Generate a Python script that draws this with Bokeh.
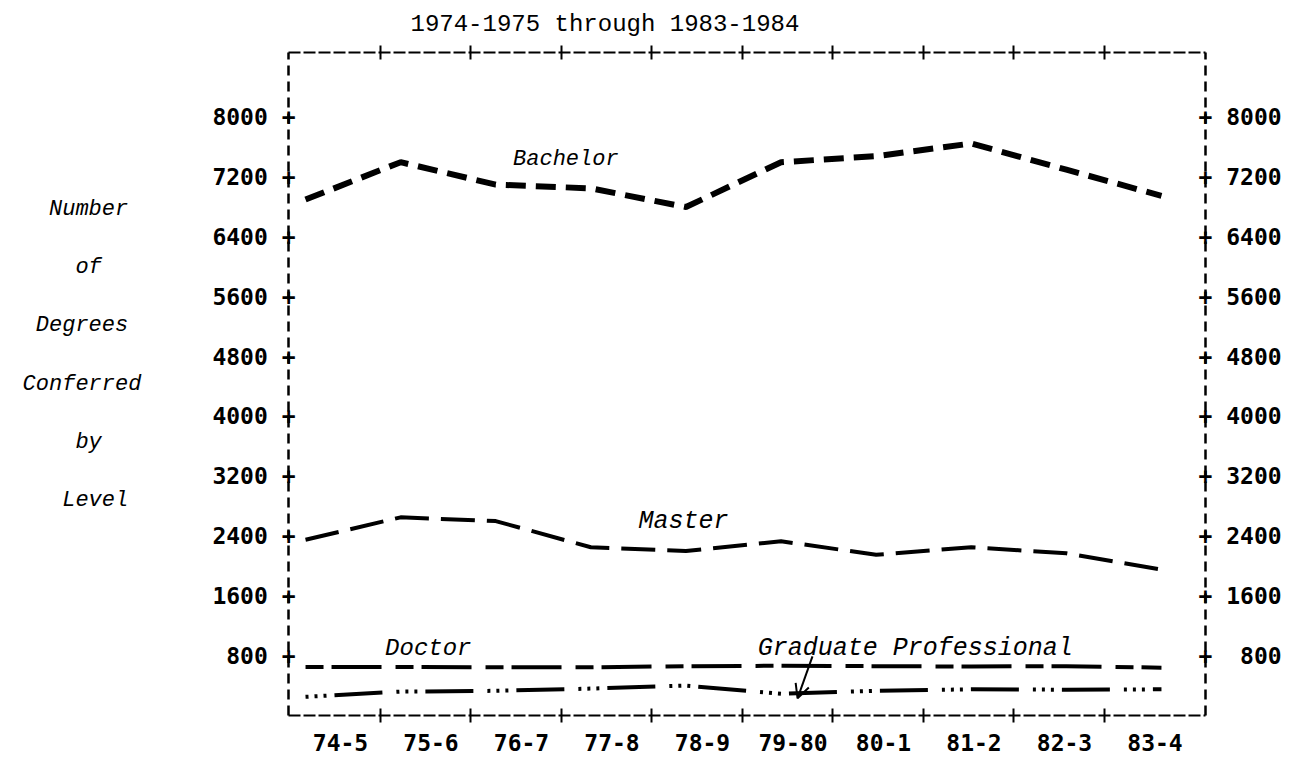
from bokeh.plotting import figure
from bokeh.models import Range1d, LinearAxis, FixedTicker, Label, Arrow, OpenHead
from bokeh.embed import file_html
from bokeh.resources import INLINE

# ---- data ----
years = ["74-5", "75-6", "76-7", "77-8", "78-9", "79-80", "80-1", "81-2", "82-3", "83-4"]
bachelor = [6900, 7400, 7100, 7050, 6800, 7400, 7480, 7650, 7300, 6950]
master = [2350, 2650, 2600, 2250, 2200, 2330, 2150, 2250, 2170, 1950]
doctor = [650, 650, 645, 645, 660, 665, 660, 655, 660, 640]
grad_prof = [250, 320, 330, 360, 400, 290, 330, 350, 345, 350]
y_ticks = [800, 1600, 2400, 3200, 4000, 4800, 5600, 6400, 7200, 8000]
title_text = "1974-1975 through 1983-1984"
NB = "\u00a0"
y_title_lines = ["Number" + NB, "of" + NB * 3, "Degrees" + NB, "Conferred",
                 "by" + NB * 3, "Level" + NB, NB]
y_title = "\n".join(y_title_lines)

xs = list(range(len(years)))
half_ticks = [i + 0.44 for i in range(len(years) - 1)]

TICK_FONT = "DejaVu Sans Mono"
TYPE_FONT = "Liberation Mono"

p = figure(width=1300, height=757,
           x_range=Range1d(-0.575, 9.558), y_range=Range1d(0, 8867),
           output_backend="svg", toolbar_location=None,
           x_axis_location=None, y_axis_location=None,
           min_border_left=288, min_border_right=95,
           min_border_top=50, min_border_bottom=42)
# the hand-plotted series sit on a slightly wider spacing than the typed labels
p.extra_x_ranges = {"series": Range1d(-0.179, 9.463)}
p.outline_line_color = None
p.grid.visible = False
p.background_fill_color = "white"
p.border_fill_color = "white"

# title
p.title.text = title_text
p.title.text_font = TYPE_FONT
p.title.text_font_size = "24px"
p.title.text_font_style = "normal"
p.title.text_color = "black"
p.title.align = "left"
p.title.offset = 122
p.title.standoff = 16


def frame_axis(axis, dash, width):
    axis.axis_line_color = "black"
    axis.axis_line_dash = dash
    axis.axis_line_width = width
    axis.major_tick_in = 0
    axis.major_tick_out = 0
    axis.minor_tick_in = 7
    axis.minor_tick_out = 7
    axis.minor_tick_line_width = 2
    axis.minor_tick_line_color = "black"
    axis.major_label_text_color = "black"
    axis.major_label_text_font = TICK_FONT
    axis.major_label_text_font_style = "bold"
    axis.major_label_text_font_size = "23px"


# bottom axis: category labels, "+" marks between them
bottom = LinearAxis(ticker=FixedTicker(ticks=xs, minor_ticks=half_ticks),
                    major_label_overrides={i: years[i] for i in xs})
frame_axis(bottom, "12 3", 2)
bottom.major_label_standoff = 11
p.add_layout(bottom, "below")

# top axis: frame line with "+" marks only
top = LinearAxis(ticker=FixedTicker(ticks=[], minor_ticks=half_ticks))
frame_axis(top, "12 3", 2)
p.add_layout(top, "above")

# left axis
left = LinearAxis(ticker=FixedTicker(ticks=y_ticks, minor_ticks=[]),
                  major_label_overrides={v: f"{v} +" for v in y_ticks})
frame_axis(left, "10 6", 2.5)
left.major_label_standoff = -7
left.axis_label = y_title
left.axis_label_orientation = "horizontal"
left.axis_label_text_font = TYPE_FONT
left.axis_label_text_font_style = "italic"
left.axis_label_text_font_size = "22px"
left.axis_label_text_line_height = 2.33
left.axis_label_text_color = "black"
left.axis_label_standoff = 68
p.add_layout(left, "left")

# right axis
right = LinearAxis(ticker=FixedTicker(ticks=y_ticks, minor_ticks=[]),
                   major_label_overrides={v: "+" + NB * (5 - len(str(v))) + str(v) for v in y_ticks})
frame_axis(right, "10 6", 2.5)
right.major_label_standoff = -7
p.add_layout(right, "right")

# series
line_kw = dict(line_color="black", x_range_name="series")
p.line(xs, bachelor, line_width=6, line_dash="20 10", **line_kw)
p.line(xs, master, line_width=4, line_dash="34 12", **line_kw)
p.line(xs, doctor, line_width=4, line_dash="18 8 50 14", **line_kw)
p.line(xs, grad_prof, line_width=4, line_dash="3 6 3 6 3 8 48 14", **line_kw)

# series labels
lab_kw = dict(text_font=TYPE_FONT, text_font_style="italic",
              text_color="black", text_baseline="middle")
p.add_layout(Label(x=2.49, y=7440, text="Bachelor", text_align="center",
                   text_font_size="22px", **lab_kw))
p.add_layout(Label(x=3.79, y=2600, text="Master", text_align="center",
                   text_font_size="25px", **lab_kw))
p.add_layout(Label(x=0.97, y=893, text="Doctor", text_align="center",
                   text_font_size="24px", **lab_kw))
p.add_layout(Label(x=4.61, y=893, text="Graduate Professional", text_align="left",
                   text_font_size="25px", **lab_kw))
p.add_layout(Arrow(end=OpenHead(size=14, line_width=2, line_color="black"),
                   x_start=5.215, y_start=790, x_end=5.05, y_end=230,
                   line_width=2, line_color="black"))

open("out.html", "w").write(file_html(p, INLINE))
